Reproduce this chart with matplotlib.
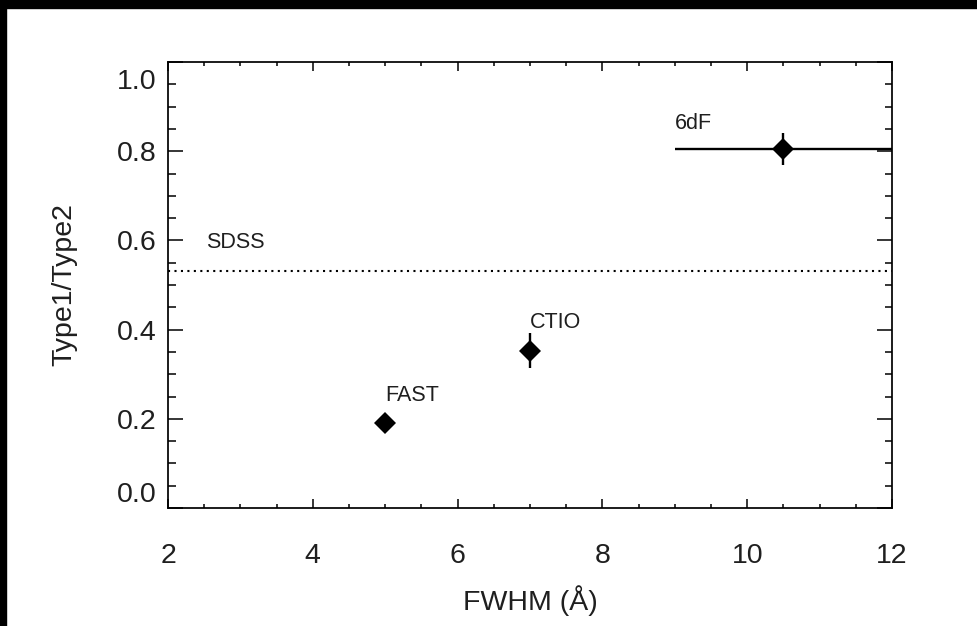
import matplotlib
matplotlib.use("Agg")
import matplotlib.pyplot as plt
from matplotlib.patches import Rectangle
from matplotlib.transforms import ScaledTranslation

plt.rcParams['font.family'] = ['Liberation Sans', 'DejaVu Sans']

# ---- data ----
surveys = ["FAST", "CTIO", "6dF"]
fwhm = [5.0, 7.0, 10.5]
fwhm_err = [0.0, 0.0, 1.5]
ratio = [0.19, 0.353, 0.804]
ratio_err = [0.0, 0.039, 0.036]
label_x = [5.0, 7.0, 9.0]
label_y = [0.241, 0.403, 0.849]
sdss_ratio = 0.531
sdss_label_xy = (2.52, 0.582)
xticks = [2, 4, 6, 8, 10, 12]
yticks = [0.0, 0.2, 0.4, 0.6, 0.8, 1.0]

W, H = 978, 626
fig = plt.figure(figsize=(W / 100, H / 100), dpi=100, facecolor='white')
# black strips at top and left of the canvas
fig.add_artist(Rectangle((0, 0), 6 / W, 1, transform=fig.transFigure, color='black', zorder=-10))
fig.add_artist(Rectangle((0, 1 - 8 / H), 1, 8 / H, transform=fig.transFigure, color='black', zorder=-10))

ax = fig.add_axes([168 / W, (H - 508) / H, (892 - 168) / W, (508 - 62) / H])
ax.set_xlim(2, 12)
ax.set_ylim(0, 1.0)

txtcol = '#1f1f1f'

# SDSS dotted line
ax.axhline(sdss_ratio, color='black', lw=1.5, ls=(0, (1, 2.1)))
ax.text(sdss_label_xy[0], sdss_label_xy[1], "SDSS", fontsize=15.5, color=txtcol)

# points with error bars
for i in range(len(surveys)):
    ax.errorbar(fwhm[i], ratio[i],
                xerr=fwhm_err[i] if fwhm_err[i] > 0 else None,
                yerr=ratio_err[i] if ratio_err[i] > 0 else None,
                fmt='D', color='black', ms=11.3, mew=0, elinewidth=1.7, capsize=0,
                clip_on=True)
    ax.text(label_x[i], label_y[i], surveys[i], fontsize=15.5, color=txtcol)

# ticks
ax.set_xticks(xticks)
ax.set_xticklabels([str(v) for v in xticks])
ax.set_yticks(yticks)
ax.set_yticklabels([f"{v:.1f}" for v in yticks])
ax.set_xticks([x / 2 for x in range(4, 25)], minor=True)
ax.set_yticks([y / 20 for y in range(0, 21)], minor=True)

ax.tick_params(axis='both', which='both', direction='in', top=True, right=True,
               width=1.1, colors='black', labelcolor=txtcol, labelsize=20.5)
ax.tick_params(axis='x', which='major', length=6.2, pad=25)
ax.tick_params(axis='x', which='minor', length=3.1)
ax.tick_params(axis='y', which='major', length=10.5, pad=8.5)
ax.tick_params(axis='y', which='minor', length=5.4)

for s in ax.spines.values():
    s.set_linewidth(1.25)

# end y labels shifted inward like the original
labs = ax.get_yticklabels()
labs[0].set_va('bottom')
labs[-1].set_va('top')
labs[-1].set_transform(labs[-1].get_transform() + ScaledTranslation(0, -5 / 72, fig.dpi_scale_trans))

ax.set_xlabel("FWHM (Å)", fontsize=20.5, color=txtcol)
ax.set_ylabel("Type1/Type2", fontsize=20.5, color=txtcol)
ax.xaxis.set_label_coords(0.5, -0.172)
ax.yaxis.set_label_coords(-0.125, 0.5)

fig.savefig("out.png", dpi=100, facecolor=fig.get_facecolor())
